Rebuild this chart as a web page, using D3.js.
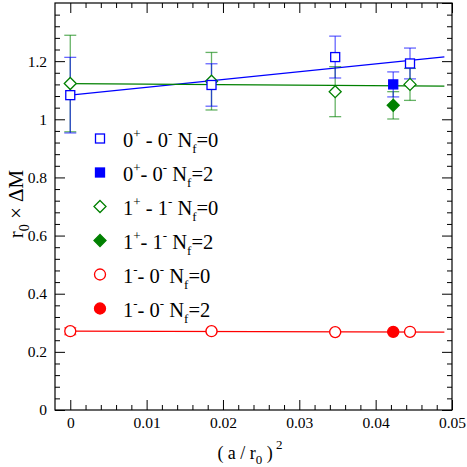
<!DOCTYPE html>
<html><head><meta charset="utf-8">
<script src="https://cdn.jsdelivr.net/npm/d3@7"></script>
<style>body{margin:0;background:#fff}svg{display:block}text{font-family:"Liberation Serif","Times New Roman",serif}</style>
</head><body>
<svg id="c" width="467" height="467"></svg>
<script>
// ---- data ----
const xNf0 = [0, 0.0185, 0.0347, 0.0445];
const xNf2 = [0.0423];
const blueNf0 = [1.083, 1.118, 1.214, 1.192];
const blueNf0Err = [0.13, 0.073, 0.072, 0.053];
const blueNf2 = [1.12];
const blueNf2Err = [0.043];
const greenNf0 = [1.123, 1.131, 1.095, 1.12];
const greenNf0Err = [0.166, 0.099, 0.086, 0.055];
const greenNf2 = [1.048];
const greenNf2Err = [0.047];
const redNf0 = [0.271, 0.271, 0.268, 0.269];
const redNf0Err = [0.012, 0.004, 0.004, 0.004];
const redNf2 = [0.269];
const redNf2Err = [0.004];
const fitX = [0, 0.049];
const blueFit = [1.083, 1.215];
const greenFit = [1.123, 1.114];
const redFit = [0.271, 0.268];
const xTicks = [0, 0.01, 0.02, 0.03, 0.04, 0.05];
const xTickLabels = ["0", "0.01", "0.02", "0.03", "0.04", "0.05"];
const yTicks = [0, 0.2, 0.4, 0.6, 0.8, 1, 1.2];
const yTickLabels = ["0", "0.2", "0.4", "0.6", "0.8", "1", "1.2"];
const legendLabels = [
  ["0", "+", " - 0", "-", " N", "f", "=0"],
  ["0", "+", "- 0", "-", " N", "f", "=2"],
  ["1", "+", " - 1", "-", " N", "f", "=0"],
  ["1", "+", "- 1", "-", " N", "f", "=2"],
  ["1", "-", "- 0", "-", " N", "f", "=0"],
  ["1", "-", "- 0", "-", " N", "f", "=2"]
];

// ---- layout ----
const L = 55, R = 452, T = 3, B = 410;
const svg = d3.select("#c");
const x = d3.scaleLinear().domain([-0.002, 0.05]).range([L, R]);
const y = d3.scaleLinear().domain([0, 1.4]).range([B, T]);

const blue = "#0000ff", green = "#008000", red = "#ff0000";

// minor tick values
const xMinor = d3.range(1, 25).map(i => i * 0.002).filter(v => Math.abs(v / 0.01 - Math.round(v / 0.01)) > 1e-6);
const yMinor = d3.range(1, 35).map(i => i * 0.04).filter(v => Math.abs(v / 0.2 - Math.round(v / 0.2)) > 1e-6);
const yMajAll = yTicks.concat([1.4]);

function styleAxis(g) {
  g.select(".domain").remove();
  g.selectAll("line").attr("stroke", "#000").attr("stroke-width", 1);
  g.selectAll("text").attr("font-size", 15.5).attr("fill", "#000")
    .attr("font-family", '"Liberation Serif","Times New Roman",serif');
}
// bottom
svg.append("g").attr("transform", `translate(0,${B})`)
  .call(d3.axisBottom(x).tickValues(xTicks).tickSize(-10).tickPadding(7)
    .tickFormat((d, i) => xTickLabels[i])).call(styleAxis);
svg.append("g").attr("transform", `translate(0,${B})`)
  .call(d3.axisBottom(x).tickValues(xMinor).tickSize(-5).tickFormat("")).call(styleAxis);
// top
svg.append("g").attr("transform", `translate(0,${T})`)
  .call(d3.axisTop(x).tickValues(xTicks).tickSize(-10).tickFormat("")).call(styleAxis);
svg.append("g").attr("transform", `translate(0,${T})`)
  .call(d3.axisTop(x).tickValues(xMinor).tickSize(-5).tickFormat("")).call(styleAxis);
// left
svg.append("g").attr("transform", `translate(${L},0)`)
  .call(d3.axisLeft(y).tickValues(yTicks).tickSize(-10).tickPadding(8)
    .tickFormat((d, i) => yTickLabels[i])).call(styleAxis);
svg.append("g").attr("transform", `translate(${L},0)`)
  .call(d3.axisLeft(y).tickValues(yMinor).tickSize(-5).tickFormat("")).call(styleAxis);
// right
svg.append("g").attr("transform", `translate(${R},0)`)
  .call(d3.axisRight(y).tickValues(yMajAll).tickSize(-10).tickFormat("")).call(styleAxis);
svg.append("g").attr("transform", `translate(${R},0)`)
  .call(d3.axisRight(y).tickValues(yMinor).tickSize(-5).tickFormat("")).call(styleAxis);

// frame
svg.append("rect").attr("x", L).attr("y", T).attr("width", R - L).attr("height", B - T)
  .attr("fill", "none").attr("stroke", "#000").attr("stroke-width", 1.2);

// fit lines
const line = d3.line().x(d => x(d[0])).y(d => y(d[1]));
[[blueFit, blue], [greenFit, green], [redFit, red]].forEach(([f, c]) => {
  svg.append("path").attr("d", line(fitX.map((xv, i) => [xv, f[i]])))
    .attr("stroke", c).attr("stroke-width", 1.2).attr("fill", "none");
});

// error bars
function errBars(xs, ys, es, color) {
  const g = svg.append("g").attr("stroke", color).attr("stroke-width", 1.3).attr("stroke-opacity", 0.6);
  xs.forEach((xv, i) => {
    const cx = x(xv), y1 = y(ys[i] + es[i]), y0 = y(ys[i] - es[i]);
    g.append("line").attr("x1", cx).attr("x2", cx).attr("y1", y1).attr("y2", y0);
    g.append("line").attr("x1", cx - 6).attr("x2", cx + 6).attr("y1", y1).attr("y2", y1);
    g.append("line").attr("x1", cx - 6).attr("x2", cx + 6).attr("y1", y0).attr("y2", y0);
  });
}
errBars(xNf0, greenNf0, greenNf0Err, green);
errBars(xNf2, greenNf2, greenNf2Err, green);
errBars(xNf0, blueNf0, blueNf0Err, blue);
errBars(xNf2, blueNf2, blueNf2Err, blue);
errBars(xNf0, redNf0, redNf0Err, red);
errBars(xNf2, redNf2, redNf2Err, red);

// markers
function marker(g, shape, cx, cy, color, filled) {
  let m;
  if (shape === "square") {
    m = g.append("rect").attr("x", cx - 4.5).attr("y", cy - 4.5).attr("width", 9).attr("height", 9);
  } else if (shape === "diamond") {
    m = g.append("path").attr("d", `M${cx},${cy - 6}L${cx + 6},${cy}L${cx},${cy + 6}L${cx - 6},${cy}Z`);
  } else {
    m = g.append("circle").attr("cx", cx).attr("cy", cy).attr("r", 5.5);
  }
  m.attr("fill", filled ? color : "#fff").attr("stroke", color).attr("stroke-width", 1.3);
}
function points(xs, ys, shape, color, filled) {
  const g = svg.append("g");
  xs.forEach((xv, i) => marker(g, shape, x(xv), y(ys[i]), color, filled));
}
points(xNf0, greenNf0, "diamond", green, false);
points(xNf2, greenNf2, "diamond", green, true);
points(xNf0, blueNf0, "square", blue, false);
points(xNf2, blueNf2, "square", blue, true);
points(xNf0, redNf0, "circle", red, false);
points(xNf2, redNf2, "circle", red, true);

// legend
const legMarkers = [["square", blue, false], ["square", blue, true], ["diamond", green, false],
  ["diamond", green, true], ["circle", red, false], ["circle", red, true]];
const lg = svg.append("g");
legMarkers.forEach((mk, i) => {
  const cy = 138.5 + i * 34;
  marker(lg, mk[0], 100, cy, mk[1], mk[2]);
  const t = lg.append("text").attr("x", 123).attr("y", cy + 8).attr("font-size", 20.5).attr("fill", "#000");
  const p = legendLabels[i];
  t.append("tspan").text(p[0]);
  t.append("tspan").attr("dy", -9).attr("font-size", 13).text(p[1]);
  t.append("tspan").attr("dy", 9).text(p[2]);
  t.append("tspan").attr("dy", -9).attr("font-size", 13).text(p[3]);
  t.append("tspan").attr("dy", 9).text(p[4]);
  t.append("tspan").attr("dy", 6).attr("font-size", 13).text(p[5]);
  t.append("tspan").attr("dy", -6).text(p[6]);
});

// axis titles
const xt = svg.append("text").attr("x", 250).attr("y", 459).attr("text-anchor", "middle")
  .attr("font-size", 18).attr("fill", "#000");
xt.append("tspan").text("( a / r");
xt.append("tspan").attr("dy", 5).attr("font-size", 13).text("0");
xt.append("tspan").attr("dy", -5).text(" )");
xt.append("tspan").attr("dy", -10).attr("font-size", 13).text(" 2");

const yt = svg.append("text").attr("transform", `translate(23,204) rotate(-90)`)
  .attr("text-anchor", "middle").attr("font-size", 21).attr("fill", "#000");
yt.append("tspan").text("r");
yt.append("tspan").attr("dy", 6).attr("font-size", 14).text("0");
yt.append("tspan").attr("dy", -6).text(" × ΔM");
</script>
</body></html>
